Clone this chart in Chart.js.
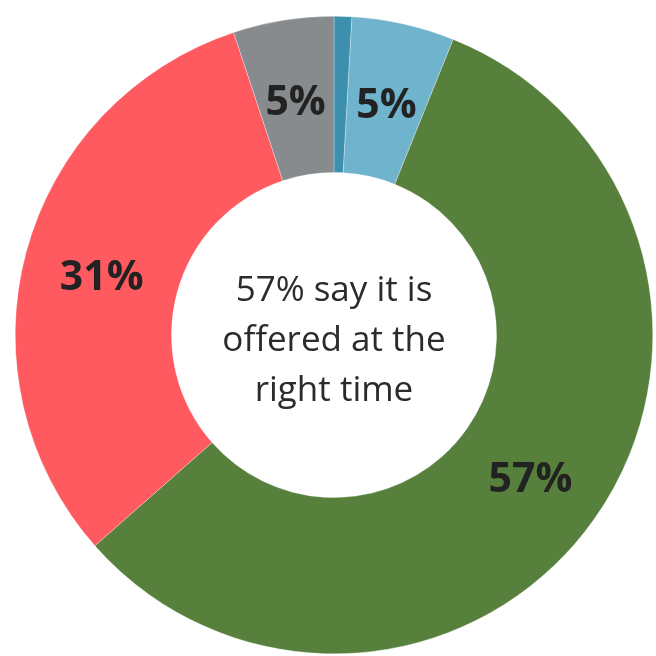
<!DOCTYPE html>
<html>
<head>
<meta charset="utf-8">
<script src="https://cdn.jsdelivr.net/npm/chart.js@4/dist/chart.umd.min.js"></script>
<style>
  html, body { margin: 0; padding: 0; background: #fff; overflow: hidden; }
  #wrap { position: absolute; left: 15px; top: 16px; width: 638px; height: 638px; }
</style>
</head>
<body>
<div id="wrap"><canvas id="donut"></canvas></div>
<script>
const categories = ['Too early', 'Somewhat early', 'Right time', 'Too late', "Don't know"];
const shares = [0.9, 5.2, 57.4, 31.4, 5.1];
const sliceColors = ['#3d8fae', '#6fb3cc', '#56803c', '#fe5a5f', '#878b8e'];
const showLabel = [false, true, true, true, true];
const centerLines = ['57% say it is', 'offered at the', 'right time'];

// percentage labels in the middle of each ring slice
const sliceLabels = {
  id: 'sliceLabels',
  afterDatasetsDraw(chart) {
    const ctx = chart.ctx;
    const meta = chart.getDatasetMeta(0);
    ctx.save();
    ctx.font = 'bold 41px "Open Sans"';
    ctx.fillStyle = '#222';
    ctx.textAlign = 'center';
    ctx.textBaseline = 'middle';
    meta.data.forEach((arc, i) => {
      if (!showLabel[i]) return;
      const pos = arc.tooltipPosition();
      ctx.fillText(Math.round(shares[i]) + '%', pos.x, pos.y + 6);
    });
    ctx.restore();
  }
};

// caption inside the hole
const centerText = {
  id: 'centerText',
  afterDraw(chart) {
    const ctx = chart.ctx;
    const arc = chart.getDatasetMeta(0).data[0];
    ctx.save();
    ctx.font = '35px "Open Sans"';
    ctx.fillStyle = '#2b2b2b';
    ctx.textAlign = 'center';
    ctx.textBaseline = 'middle';
    const lh = 50;
    centerLines.forEach((line, i) => {
      ctx.fillText(line, arc.x, arc.y + (i - 1) * lh + 6);
    });
    ctx.restore();
  }
};

new Chart(document.getElementById('donut'), {
  type: 'doughnut',
  data: {
    labels: categories,
    datasets: [{
      data: shares,
      backgroundColor: sliceColors,
      borderColor: 'rgba(255,255,255,0.6)',
      borderWidth: 0.5
    }]
  },
  options: {
    responsive: true,
    maintainAspectRatio: false,
    animation: false,
    cutout: '51%',
    layout: { padding: 0 },
    plugins: {
      legend: { display: false },
      tooltip: { enabled: false }
    }
  },
  plugins: [sliceLabels, centerText]
});
</script>
</body>
</html>
